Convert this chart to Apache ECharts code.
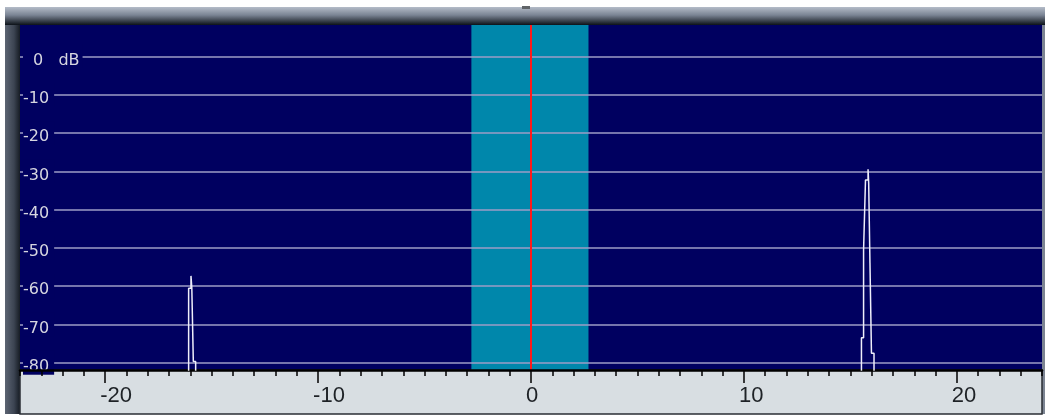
<!DOCTYPE html>
<html><head><meta charset="utf-8">
<script src="https://cdn.jsdelivr.net/npm/echarts@6/dist/echarts.min.js"></script>
<style>html,body{margin:0;padding:0;background:#fff}#c{width:1045px;height:419px}</style>
</head><body><div id="c"></div>
<script>
// ---- data ----
const xMajorTicks = [-20, -10, 0, 10, 20];
const yTicks = [0, -10, -20, -30, -40, -50, -60, -70, -80];
const passband = [-2.8, 2.7];
const carrier = [0];
// spectrum trace (frequency offset, level dB); -95 = below display floor
const traceX = [-16.08, -16.08, -15.97, -15.97, -15.93, -15.93, -15.86, -15.86, -15.75, -15.75,
                15.52, 15.52, 15.62, 15.62, 15.71, 15.71, 15.83, 15.83, 15.86, 15.86, 15.92, 15.92, 15.99, 15.99, 16.11, 16.11];
const traceY = [-95, -60.5, -60.5, -57.3, -57.3, -60.5, -60.5, -79.7, -79.7, -95,
                -95, -73.5, -73.5, -50.5, -50.5, -32.2, -32.2, -29.4, -29.4, -33.0, -33.0, -53.9, -53.9, -77.5, -77.5, -95];

const traceData = traceX.map((x, i) => [x, traceY[i]]);

const W = 1045, H = 419;
const G = {left: 20, top: 25, right: 3, bottom: 49};
const NAVY = '#000060';

const chart = echarts.init(document.getElementById('c'), null, {renderer: 'canvas'});
chart.setOption({
  animation: false,
  backgroundColor: '#ffffff',
  graphic: [
    {type: 'rect', z: -20, shape: {x: 5, y: 7, width: W - 5, height: 18},
     style: {fill: new echarts.graphic.LinearGradient(0, 0, 0, 1, [
       {offset: 0, color: '#b4bcc8'}, {offset: 0.45, color: '#7a8494'}, {offset: 1, color: '#0c1218'}])}},
    {type: 'rect', z: -20, shape: {x: 5, y: 25, width: 15, height: H - 25 - 5},
     style: {fill: new echarts.graphic.LinearGradient(0, 0, 1, 0, [
       {offset: 0, color: '#5c6472'}, {offset: 0.6, color: '#3c4452'}, {offset: 1, color: '#161c24'}])}},
    {type: 'rect', z: -20, shape: {x: W - 3, y: 25, width: 3, height: H - 25 - 5},
     style: {fill: '#7c8492'}},
    {type: 'rect', z: -10, shape: {x: G.left, y: G.top, width: W - G.left - G.right, height: H - G.top - G.bottom},
     style: {fill: NAVY}},
    {type: 'rect', z: -10, shape: {x: G.left, y: H - G.bottom, width: W - G.left - G.right, height: G.bottom - 5},
     style: {fill: '#d8dee2', stroke: '#2a2e34', lineWidth: 1.5}},
    {type: 'rect', z: -5, shape: {x: 522, y: 6, width: 8, height: 3}, style: {fill: '#606468'}}
  ],
  grid: {left: G.left, top: G.top, right: G.right, bottom: G.bottom, containLabel: false, show: false},
  xAxis: [
    {type: 'value', min: -24, max: 24, interval: 1, z: 5,
     axisLine: {show: true, onZero: false, lineStyle: {color: '#000', width: 2.5}},
     axisTick: {show: true, length: 6, lineStyle: {color: '#000', width: 1.5}},
     axisLabel: {show: false}, splitLine: {show: false}},
    {type: 'value', min: -24, max: 24, position: 'bottom', z: 5,
     axisLine: {show: false, onZero: false},
     axisTick: {show: true, customValues: xMajorTicks, length: 13, lineStyle: {color: '#000', width: 1.5}},
     axisLabel: {show: true, customValues: xMajorTicks, align: 'left', padding: [0, 0, 0, -5], margin: 15,
                 fontFamily: 'Liberation Sans', fontSize: 22, color: '#1e2226'},
     splitLine: {show: false}}
  ],
  yAxis: {
    type: 'value', min: -81.9, max: 8.3, z: 3,
    axisLine: {show: false},
    axisTick: {show: false, customValues: yTicks},
    axisLabel: {
      show: true, customValues: yTicks, inside: true, margin: 3,
      formatter: v => v === 0 ? '{z|0   dB}' : '{n|' + v + '}',
      rich: {
        n: {fontFamily: 'DejaVu Sans', fontSize: 16, color: '#d6d6e0', backgroundColor: NAVY, padding: [8, 5, 0, 0]},
        z: {fontFamily: 'DejaVu Sans', fontSize: 16, color: '#d6d6e0', backgroundColor: NAVY, padding: [8, 3, 0, 10]}
      }
    },
    splitLine: {show: true, lineStyle: {color: '#9c9cc6', width: 1.5}}
  },
  series: [
    {type: 'line', name: 'band', data: [], z: 1, silent: true,
     markArea: {silent: true, itemStyle: {color: '#0087ab', opacity: 1},
                data: [[{xAxis: passband[0]}, {xAxis: passband[1]}]]}},
    {type: 'line', name: 'carrier', data: [], z: 6, silent: true,
     markLine: {silent: true, symbol: 'none', label: {show: false},
                lineStyle: {color: '#ff1a1a', width: 2, type: 'solid'},
                data: carrier.map(c => ({xAxis: c}))}},
    {type: 'line', name: 'trace', data: traceData, z: 6, silent: true, showSymbol: false, clip: true,
     lineStyle: {color: '#eeeefa', width: 1.5}}
  ]
});
</script></body></html>
